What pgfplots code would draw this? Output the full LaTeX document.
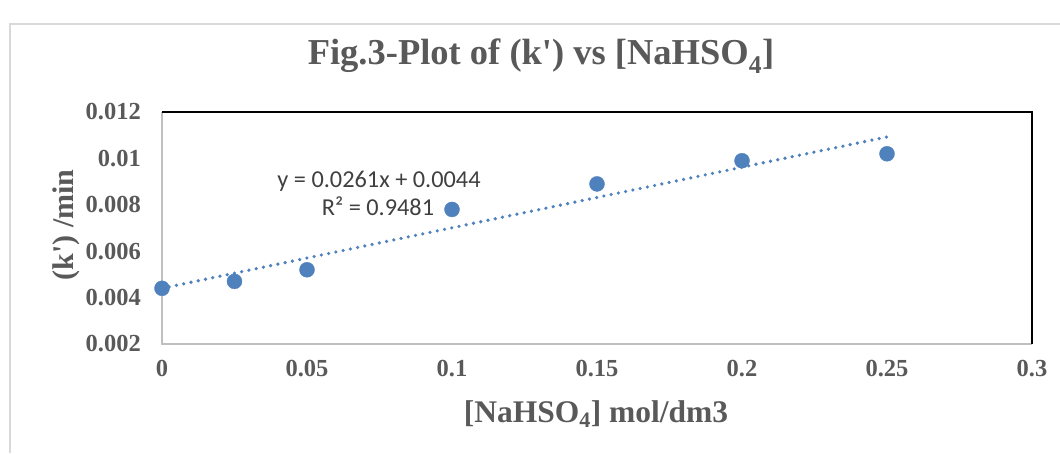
\documentclass[border=0pt]{standalone}
\usepackage{pgfplots}
\pgfplotsset{compat=1.18}
\usepackage{fontspec}
\setmainfont{Liberation Serif}
\newfontfamily\calibri{Carlito}
\definecolor{txt}{HTML}{595959}
\definecolor{trendtxt}{HTML}{404040}
\definecolor{ptblue}{HTML}{4F81BD}
\definecolor{framegray}{HTML}{D9D9D9}
\definecolor{axgray}{HTML}{BFBFBF}

\begin{document}
\begin{tikzpicture}[x=1pt,y=1pt]
% outer chart frame
\draw[framegray, line width=1.5pt] (10,0) -- (10,429) -- (1070,429);

\begin{axis}[
    at={(162pt,109pt)}, anchor=south west,
    scale only axis,
    width=870pt, height=232pt,
    xmin=0, xmax=0.3,
    ymin=0.002, ymax=0.012,
    clip=false,
    axis line style={draw=none},
    major tick length=0pt,
    xtick={0,0.05,0.1,0.15,0.2,0.25,0.3},
    xticklabels={0,0.05,0.1,0.15,0.2,0.25,0.3},
    ytick={0.002,0.004,0.006,0.008,0.01,0.012},
    yticklabels={0.002,0.004,0.006,0.008,0.01,0.012},
    scaled ticks=false,
    ticklabel style={text=txt, font=\bfseries\fontsize{24.5}{24.5}\selectfont, inner sep=0pt},
    xticklabel style={anchor=north, yshift=-16pt},
    yticklabel style={anchor=east, xshift=-21pt},
]
% trendline y = 0.0261x + 0.0044
\addplot[ptblue, line width=3.6pt, line cap=round, dash pattern=on 0pt off 7.4pt]
    coordinates {(0,0.0044) (0.25,0.010925)};
\addplot[only marks, mark=*, mark size=7.5pt, color=ptblue, mark options={draw=ptblue, fill=ptblue}]
    coordinates {
    (0,0.0044)
    (0.025,0.0047)
    (0.05,0.0052)
    (0.1,0.0078)
    (0.15,0.0089)
    (0.2,0.0099)
    (0.25,0.0102)
};
\draw[axgray, line width=2pt] (rel axis cs:0,1) -- (rel axis cs:0,0) -- (rel axis cs:1,0);
\draw[black, line width=2pt] (rel axis cs:0,1) -- (rel axis cs:1,1) -- (rel axis cs:1,0);
\end{axis}

% title
\node[text=txt, font=\bfseries\fontsize{36.5}{36.5}\selectfont, anchor=base]
    at (541,388) {Fig.3-Plot of (k\textquotesingle) vs [NaHSO\textsubscript{4}]};
% axis labels
\node[text=txt, font=\bfseries\fontsize{31.5}{31.5}\selectfont, anchor=base]
    at (596,31) {[NaHSO\textsubscript{4}] mol/dm3};
\node[text=txt, font=\bfseries\fontsize{30}{30}\selectfont, rotate=90, anchor=base]
    at (73,228) {(k\textquotesingle) /min};
% trendline label
\node[text=trendtxt, font=\calibri\fontsize{24.3}{24.3}\selectfont, anchor=base]
    at (379,265) {y = 0.0261x + 0.0044};
\node[text=trendtxt, font=\calibri\fontsize{24.3}{24.3}\selectfont, anchor=base]
    at (378,237) {R² = 0.9481};

\pgfresetboundingbox
\path[use as bounding box] (0,0) rectangle (1060,453);
\end{tikzpicture}
\end{document}
